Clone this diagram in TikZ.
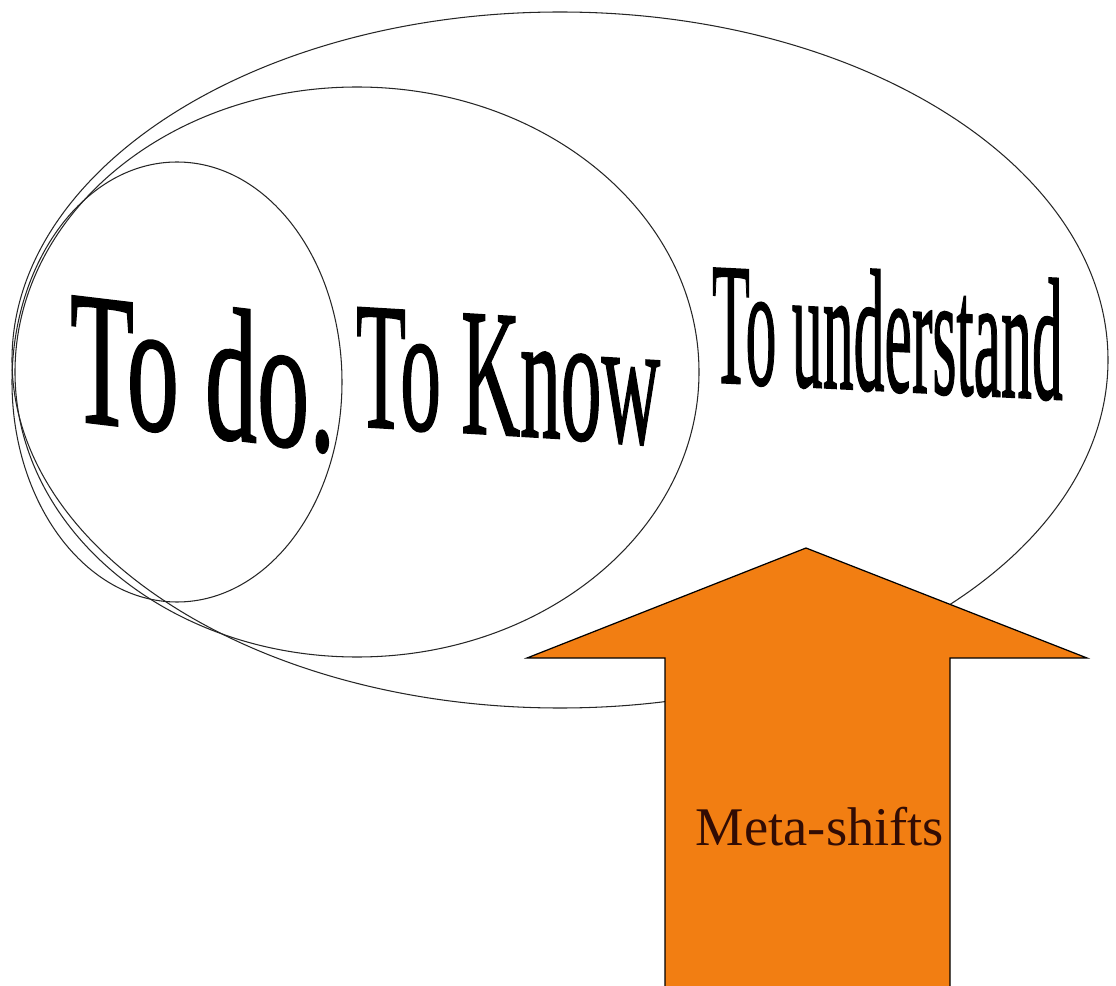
\documentclass[tikz,border=0pt]{standalone}
\usepackage{fontspec}
\setmainfont{Liberation Serif}
\newfontfamily\wordfont[FakeBold=1.2]{Liberation Serif}
\definecolor{shiftorange}{RGB}{242,126,18}
\definecolor{shiftink}{RGB}{50,12,4}

\begin{document}
\begin{tikzpicture}[x=0.02cm, y=-0.02cm,
  ring/.style={draw=black!85, line width=0.6pt},
  bigword/.style={inner sep=0pt, anchor=base west, font=\wordfont\fontsize{#1}{#1}\selectfont}]
\useasboundingbox (0,0) rectangle (1116,986);
% nested ellipses
\draw[ring] (560,360) ellipse [x radius=548, y radius=348];
\draw[ring] (357,372) ellipse [x radius=342, y radius=285];
\draw[ring] (177,382) ellipse [x radius=165, y radius=220];
% the three words
\node[bigword=108, yslant=-0.12, xscale=0.55] (todo) at (70,420) {To do.};
\node[bigword=103, yslant=-0.06, xscale=0.45] (toknow) at (356,426) {To Know};
\node[bigword=99, yslant=-0.05, xscale=0.355] (tounderstand) at (712,382) {To understand};
% big arrow
\fill[shiftorange] (806,548) -- (1087,658) -- (950,658) -- (950,986) -- (665,986)
  -- (665,658) -- (527,658) -- cycle;
\draw[line width=0.7pt] (950,986) -- (950,658) -- (1087,658) -- (806,548) -- (527,658)
  -- (665,658) -- (665,986);
\node[font=\fontsize{31}{33}\selectfont, text=shiftink] (meta) at (820,827) {Meta-shifts};
\end{tikzpicture}
\end{document}
